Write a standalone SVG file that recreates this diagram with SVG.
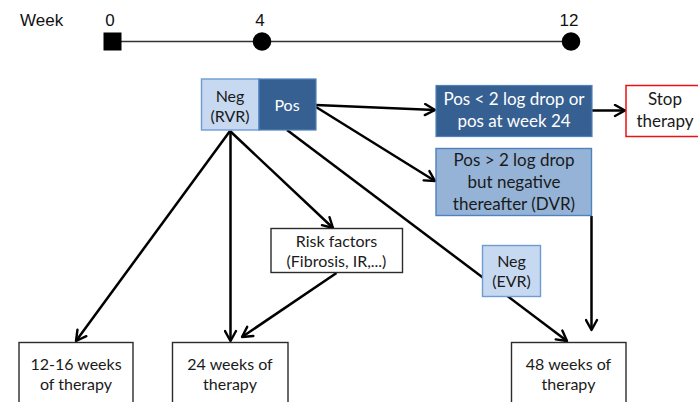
<svg xmlns="http://www.w3.org/2000/svg" width="698" height="402" viewBox="0 0 698 402">
<style>
.t{font-family:Lato,"Liberation Sans",sans-serif;font-size:16px;fill:#1a1a1a;text-anchor:middle}
.w{fill:#ffffff}
.big{font-size:17px}
.tl{font-family:"Liberation Sans",Arial,sans-serif;font-size:17px;fill:#111}
.box{fill:#ffffff;stroke:#2b2b2b;stroke-width:1.4}
.dark{fill:#376092;stroke:#4f81bd;stroke-width:1.2}
.light{fill:#c6d9f1;stroke:#6f9bd4;stroke-width:1.4}
.mid{fill:#95b3d7;stroke:#4f81bd;stroke-width:1.4}
.red{fill:#ffffff;stroke:#ee1111;stroke-width:1.5}
.c{stroke:#000;stroke-width:2.5;fill:none;marker-end:url(#arr)}
</style>
<defs>
<marker id="arr" markerWidth="14" markerHeight="14" viewBox="0 0 14 14" refX="12" refY="7" markerUnits="userSpaceOnUse" orient="auto">
<path d="M2,1.5 L12,7 L2,12.5" fill="none" stroke="#000" stroke-width="2.4" stroke-linejoin="round" stroke-linecap="round"/>
</marker>
</defs>
<rect width="698" height="402" fill="#ffffff"/>
<g id="timeline">
<text class="tl" x="20" y="25.5">Week</text>
<text class="tl" x="110" y="25.5" text-anchor="middle">0</text>
<text class="tl" x="260" y="25.5" text-anchor="middle">4</text>
<text class="tl" x="569" y="25.5" text-anchor="middle">12</text>
<line x1="112" y1="41.5" x2="571" y2="41.5" stroke="#333" stroke-width="1.4"/>
<rect x="103.5" y="32.5" width="18" height="18" fill="#000"/>
<circle cx="262" cy="41.5" r="9.3" fill="#000"/>
<circle cx="571" cy="41.5" r="9.3" fill="#000"/>
</g>
<g id="connectors">
<line class="c" x1="316" y1="105" x2="435" y2="110"/>
<line class="c" x1="316" y1="107" x2="435" y2="181"/>
<line class="c" x1="287" y1="130" x2="567" y2="341"/>
<line class="c" x1="230" y1="131" x2="76" y2="341"/>
<line class="c" x1="230.5" y1="131" x2="230.5" y2="341"/>
<line class="c" x1="230" y1="131" x2="333" y2="228"/>
<line class="c" x1="336.5" y1="273" x2="242" y2="337"/>
<line class="c" x1="592" y1="110.5" x2="625" y2="110.5"/>
<line class="c" x1="591.5" y1="216" x2="591.5" y2="330"/>
</g>
<g id="node-neg-rvr">
<rect class="light" x="201.5" y="79" width="57.5" height="51"/>
<text class="t" x="230" y="101.5">Neg</text>
<text class="t" x="230" y="121.5">(RVR)</text>
</g>
<g id="node-pos">
<rect class="dark" x="259" y="79" width="57" height="51"/>
<text class="t w" x="287" y="110.5">Pos</text>
</g>
<g id="node-pos-lt2">
<rect class="dark" x="436" y="85.5" width="156" height="51"/>
<text class="t w big" x="514" y="105">Pos &lt; 2 log drop or</text>
<text class="t w big" x="514" y="127">pos at week 24</text>
</g>
<g id="node-stop">
<rect class="red" x="626" y="85.5" width="80" height="51"/>
<text class="t big" x="665" y="105">Stop</text>
<text class="t big" x="665" y="127">therapy</text>
</g>
<g id="node-dvr">
<rect class="mid" x="436" y="148.5" width="155.5" height="67"/>
<text class="t big" x="514" y="165.5">Pos &gt; 2 log drop</text>
<text class="t big" x="514" y="187.5">but negative</text>
<text class="t big" x="514" y="209.5">thereafter (DVR)</text>
</g>
<g id="node-risk">
<rect class="box" x="271" y="228.5" width="131.5" height="44"/>
<text class="t" x="336.5" y="246.5">Risk factors</text>
<text class="t" x="336.5" y="266.5">(Fibrosis, IR,...)</text>
</g>
<g id="node-neg-evr">
<rect class="light" x="482.5" y="245.5" width="58" height="51"/>
<text class="t" x="511.5" y="266.5">Neg</text>
<text class="t" x="511.5" y="287">(EVR)</text>
</g>
<g id="node-12-16">
<rect class="box" x="19" y="342.5" width="114" height="70"/>
<text class="t" x="76" y="369.5">12-16 weeks</text>
<text class="t" x="76" y="389.5">of therapy</text>
</g>
<g id="node-24">
<rect class="box" x="172.5" y="342.5" width="115.5" height="70"/>
<text class="t" x="230" y="369.5">24 weeks of</text>
<text class="t" x="230" y="389.5">therapy</text>
</g>
<g id="node-48">
<rect class="box" x="511.5" y="342.5" width="114.5" height="70"/>
<text class="t" x="568.5" y="369.5">48 weeks of</text>
<text class="t" x="568.5" y="389.5">therapy</text>
</g>
</svg>
